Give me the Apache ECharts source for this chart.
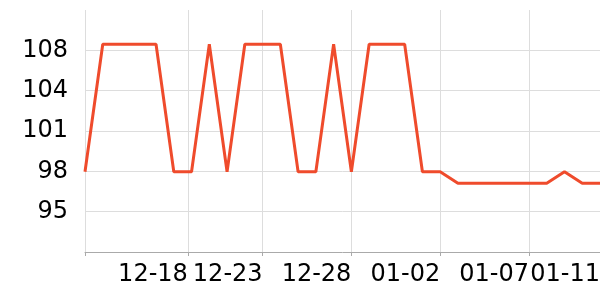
<!DOCTYPE html>
<html>
<head>
<meta charset="utf-8">
<script src="https://cdn.jsdelivr.net/npm/echarts@6/dist/echarts.min.js"></script>
<style>
html,body{margin:0;padding:0;background:#fff;}
#chart{width:600px;height:300px;}
</style>
</head>
<body>
<div id="chart"></div>
<script>
// Dates (one point per day)
const dates = [
  '2024-12-13','2024-12-14','2024-12-15','2024-12-16','2024-12-17','2024-12-18',
  '2024-12-19','2024-12-20','2024-12-21','2024-12-22','2024-12-23','2024-12-24',
  '2024-12-25','2024-12-26','2024-12-27','2024-12-28','2024-12-29','2024-12-30',
  '2024-12-31','2025-01-01','2025-01-02','2025-01-03','2025-01-04','2025-01-05',
  '2025-01-06','2025-01-07','2025-01-08','2025-01-09','2025-01-10','2025-01-11'
];
// Series values
const values = [
  98, 108, 108, 108, 108, 98,
  98, 108, 98, 108, 108, 108,
  98, 98, 108, 98, 108, 108,
  108, 98, 98, 97.1, 97.1, 97.1,
  97.1, 97.1, 97.1, 98, 97.1, 97.1
];
// X tick / gridline positions and labelled ticks
const xTickDates = ['2024-12-13','2024-12-18 19:00','2024-12-23','2024-12-28','2025-01-02','2025-01-07','2025-01-11'];
const xLabelDates = ['2024-12-18 19:00','2024-12-23','2024-12-28','2025-01-02','2025-01-07','2025-01-11'];
// Y axis scale (labels shown rounded)
const yInterval = 3.1625;
const yMin = 29 * yInterval;
const yMax = 35 * yInterval;

function ts(s) {
  const parts = s.split(' ');
  const d = parts[0].split('-').map(Number);
  let h = 0, m = 0;
  if (parts[1]) { const t = parts[1].split(':').map(Number); h = t[0]; m = t[1]; }
  return new Date(d[0], d[1] - 1, d[2], h, m).getTime();
}
function pad(n) { return (n < 10 ? '0' : '') + n; }

const seriesData = dates.map((d, i) => [ts(d), values[i]]);

const chart = echarts.init(document.getElementById('chart'), null, {renderer: 'canvas'});
chart.setOption({
  animation: false,
  backgroundColor: '#fff',
  grid: {left: 85, right: 0, top: 10, bottom: 48, containLabel: false, outerBoundsMode: 'none'},
  xAxis: {
    type: 'value',
    min: ts(dates[0]),
    max: ts(dates[dates.length - 1]),
    axisLine: {show: true, lineStyle: {color: '#aaa', width: 1}},
    axisTick: {show: true, length: 4, lineStyle: {color: '#aaa'}, customValues: xTickDates.map(ts)},
    axisLabel: {
      customValues: xLabelDates.map(ts),
      align: 'right',
      fontSize: 24,
      fontFamily: 'DejaVu Sans',
      color: '#000',
      margin: 11,
      hideOverlap: false,
      formatter: function (v) { const d = new Date(v); return pad(d.getMonth() + 1) + '-' + pad(d.getDate()); }
    },
    splitLine: {show: true, lineStyle: {color: '#ddd', width: 1}}
  },
  yAxis: {
    type: 'value',
    min: yMin,
    max: yMax,
    interval: yInterval,
    axisLine: {show: false},
    axisTick: {show: false},
    axisLabel: {
      showMinLabel: false,
      showMaxLabel: false,
      fontSize: 24,
      fontFamily: 'DejaVu Sans',
      color: '#000',
      margin: 17,
      formatter: function (v) { return String(Math.round(v)); }
    },
    splitLine: {show: true, showMinLine: false, showMaxLine: false, lineStyle: {color: '#ddd', width: 1}}
  },
  series: [{
    type: 'line',
    data: seriesData,
    showSymbol: false,
    symbol: 'none',
    lineStyle: {color: '#ef4b2c', width: 3},
    itemStyle: {color: '#ef4b2c'}
  }]
});
</script>
</body>
</html>
